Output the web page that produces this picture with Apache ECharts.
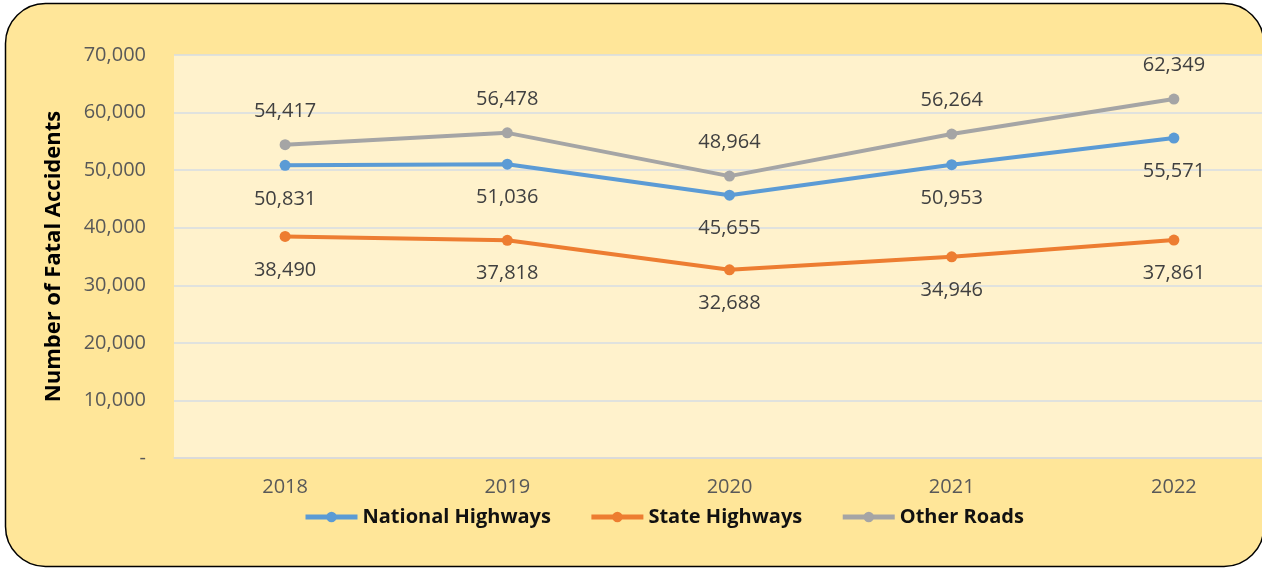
<!DOCTYPE html>
<html>
<head>
<meta charset="utf-8">
<script src="https://cdn.jsdelivr.net/npm/echarts@6/dist/echarts.min.js"></script>
<style>
  html, body { margin: 0; padding: 0; background: #fff; overflow: hidden; }
  /* the plot runs past the right edge of the picture, so the canvas is wider than the window */
  #fatal_chart { width: 1300px; height: 570px; }
</style>
</head>
<body>
<div id="fatal_chart"></div>
<script>
// data
const years = ['2018', '2019', '2020', '2021', '2022'];
const nationalHighways = [50831, 51036, 45655, 50953, 55571];
const stateHighways = [38490, 37818, 32688, 34946, 37861];
const otherRoads = [54417, 56478, 48964, 56264, 62349];

const chart = echarts.init(document.getElementById('fatal_chart'));

function fmt(v) {
    return v === 0 ? '-' : v.toLocaleString('en-US');
}

function lineSeries(name, data, color, labelPos) {
    return {
        name: name,
        type: 'line',
        data: data,
        symbol: 'circle',
        symbolSize: 11,
        lineStyle: { width: 4, color: color },
        itemStyle: { color: color },
        label: {
            show: true,
            position: labelPos,
            distance: 18,
            color: '#404040',
            fontSize: 20,
            fontFamily: 'Open Sans',
            formatter: p => fmt(p.value)
        },
        emphasis: { disabled: true }
    };
}

chart.setOption({
    animation: false,
    backgroundColor: '#ffffff',
    graphic: [{
        type: 'rect',
        z: -10,
        silent: true,
        shape: { x: 5.5, y: 3.5, width: 1258.5, height: 563, r: 40 },
        style: { fill: '#FFE699', stroke: '#000', lineWidth: 1.5 }
    }],
    textStyle: { fontFamily: 'Open Sans' },
    legend: {
        bottom: 38,
        left: 298,
        itemWidth: 52,
        itemHeight: 13,
        itemGap: 38,
        lineStyle: { width: 5 },
        textStyle: {
            fontSize: 20,
            fontWeight: 'bold',
            color: '#111',
            fontFamily: 'Open Sans'
        },
        data: ['National Highways', 'State Highways', 'Other Roads']
    },
    grid: {
        left: 174,
        top: 55,
        width: 1111,
        bottom: 112,
        show: true,
        backgroundColor: '#FFF2CC',
        borderWidth: 0
    },
    xAxis: {
        type: 'category',
        data: years,
        boundaryGap: true,
        axisLine: { show: true, lineStyle: { color: '#D9D9D9', width: 1.5 } },
        axisTick: { show: false },
        axisLabel: { color: '#595959', fontSize: 20, margin: 19 }
    },
    yAxis: {
        type: 'value',
        min: 0,
        max: 70000,
        interval: 10000,
        name: 'Number of Fatal Accidents',
        nameLocation: 'middle',
        nameGap: 109,
        nameTextStyle: { fontSize: 22, fontWeight: 'bold', color: '#000' },
        axisLine: { show: false },
        axisTick: { show: false },
        axisLabel: {
            color: '#595959',
            fontSize: 20,
            margin: 28,
            formatter: fmt
        },
        splitLine: { lineStyle: { color: '#D6DCE5', width: 1.5 } }
    },
    series: [
        lineSeries('National Highways', nationalHighways, '#5B9BD5', 'bottom'),
        lineSeries('State Highways', stateHighways, '#ED7D31', 'bottom'),
        lineSeries('Other Roads', otherRoads, '#A5A5A5', 'top')
    ]
});
</script>
</body>
</html>
